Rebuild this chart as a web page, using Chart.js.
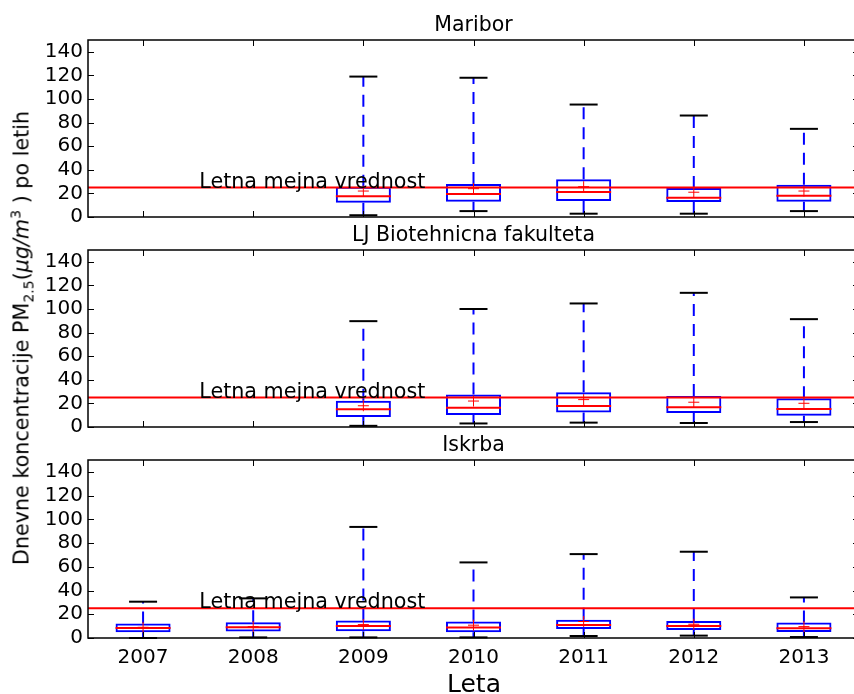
<!DOCTYPE html>
<html>
<head>
<meta charset="utf-8">
<script src="https://cdn.jsdelivr.net/npm/chart.js@4.4.0/dist/chart.umd.min.js"></script>
<style>
  html, body {
    margin: 0;
    padding: 0;
    width: 854px;
    height: 694px;
    overflow: hidden;
    background: #fff;
    font-family: "DejaVu Sans", sans-serif;
  }
  .panel {
    position: absolute;
    left: 0;
    width: 870px;
  }
  #ylabel {
    position: absolute;
    left: 22px;
    top: 338px;
    transform: translate(-50%, -50%) rotate(-90deg);
    white-space: nowrap;
    font-size: 20.7px;
    color: #000;
  }
  #ylabel sub, #ylabel sup { font-size: 14px; }
  #xlabel {
    position: absolute;
    left: 474px;
    top: 683px;
    transform: translate(-50%, -50%);
    font-size: 25px;
    color: #000;
  }
</style>
</head>
<body>
<div class="panel" style="top:0px"><canvas id="chart1" width="870" height="234"></canvas></div>
<div class="panel" style="top:210px"><canvas id="chart2" width="870" height="234"></canvas></div>
<div class="panel" style="top:420px"><canvas id="chart3" width="870" height="272"></canvas></div>
<div id="ylabel">Dnevne koncentracije PM<sub>2.5</sub>(<i>μg/m</i><sup>3</sup> ) po letih</div>
<div id="xlabel">Leta</div>
<script>
// Categories and tick labels
const years = ["2007", "2008", "2009", "2010", "2011", "2012", "2013"];
const yTicks = [0, 20, 40, 60, 80, 100, 120, 140];
const limitValue = 25;
const limitText = "Letna mejna vrednost";
const limitTextPos = 0.51;

// Maribor
const mbMin = [null, null, 1.5, 5, 2.8, 2.8, 5];
const mbQ1 = [null, null, 12.1, 13, 13.6, 12.7, 13];
const mbMed = [null, null, 17.5, 19.5, 21.2, 16.4, 18];
const mbMean = [null, null, 22, 24, 25.7, 21, 22];
const mbQ3 = [null, null, 25.7, 28, 32, 24.6, 27.4];
const mbMax = [null, null, 119, 118, 95.3, 86, 74.7];

// LJ Biotehnicna fakulteta
const ljMin = [null, null, 1, 3, 3.7, 3.4, 4.2];
const ljQ1 = [null, null, 8.5, 10.2, 12.2, 11.9, 9.6];
const ljMed = [null, null, 15, 16.4, 17.8, 16.7, 15.3];
const ljMean = [null, null, 18, 22, 23.2, 21, 20.1];
const ljQ3 = [null, null, 22.3, 27.5, 29.4, 26.3, 24.3];
const ljMax = [null, null, 89.7, 100, 104.7, 113.7, 91.4];

// Iskrba
const isMin = [0, 0.5, 0.5, 0.5, 1.7, 2, 0.8];
const isQ1 = [4.8, 5.4, 5.7, 4.8, 7.6, 6.8, 5.1];
const isMed = [8.5, 9.1, 10.2, 8.8, 11, 10.2, 8.2];
const isMean = [9, 9.6, 11.3, 10.8, 13.9, 11.6, 9.6];
const isQ3 = [12.2, 13.3, 14.7, 13.8, 15.3, 14.4, 13];
const isMax = [30.6, 33.4, 93.6, 63.7, 70.7, 72.7, 34.2];

const FONT = '"DejaVu Sans", sans-serif';
const BLUE = "#0000ff";
const RED = "#ff0000";

// Whisker segments: box edge -> extreme, broken by nulls
function whiskerPoints(q1, q3, lo, hi) {
  const pts = [];
  years.forEach((yr, i) => {
    if (q3[i] == null) return;
    pts.push({ x: yr, y: q3[i] }, { x: yr, y: hi[i] }, { x: yr, y: null });
    pts.push({ x: yr, y: q1[i] }, { x: yr, y: lo[i] }, { x: yr, y: null });
  });
  return pts;
}

// Frame, inward ticks, limit line and title
const framePlugin = {
  id: "frame",
  afterDatasetsDraw(chart) {
    const { ctx, chartArea: a, scales } = chart;
    const yl = scales.y.getPixelForValue(limitValue);
    ctx.save();
    ctx.strokeStyle = RED;
    ctx.lineWidth = 2;
    ctx.beginPath();
    ctx.moveTo(a.left, yl);
    ctx.lineTo(a.right, yl);
    ctx.stroke();
    ctx.fillStyle = "#000";
    ctx.font = "20.7px " + FONT;
    ctx.textAlign = "left";
    ctx.textBaseline = "alphabetic";
    ctx.fillText(limitText, scales.x.getPixelForValue(limitTextPos), yl);
    ctx.restore();
  },
  afterDraw(chart, args, opts) {
    const { ctx, chartArea: a, scales } = chart;
    ctx.save();
    ctx.strokeStyle = "#000";
    ctx.lineWidth = 1;
    ctx.beginPath();
    scales.y.ticks.forEach((t) => {
      const py = Math.round(scales.y.getPixelForValue(t.value)) + 0.5;
      ctx.moveTo(a.left, py);
      ctx.lineTo(a.left + 6, py);
      ctx.moveTo(a.right, py);
      ctx.lineTo(a.right - 6, py);
    });
    years.forEach((yr, i) => {
      const px = Math.round(scales.x.getPixelForValue(i)) + 0.5;
      ctx.moveTo(px, a.top);
      ctx.lineTo(px, a.top + 6);
      ctx.moveTo(px, a.bottom);
      ctx.lineTo(px, a.bottom - 6);
    });
    ctx.stroke();
    ctx.lineWidth = 1.5;
    ctx.strokeRect(a.left, a.top, a.right - a.left, a.bottom - a.top);
    ctx.fillStyle = "#000";
    ctx.font = "20.5px " + FONT;
    ctx.textAlign = "center";
    ctx.textBaseline = "alphabetic";
    ctx.fillText(opts.title, (a.left + a.right) / 2, a.top - 9);
    ctx.restore();
  },
};

function makeChart(id, title, mn, q1, med, mean, q3, mx, showX) {
  return new Chart(document.getElementById(id), {
    type: "bar",
    data: {
      labels: years,
      datasets: [
        {
          type: "line",
          data: mean,
          showLine: false,
          pointStyle: "cross",
          pointRadius: 5.5,
          pointBorderColor: RED,
          pointBorderWidth: 1,
          clip: false,
          order: 0,
        },
        {
          type: "line",
          data: med,
          showLine: false,
          pointStyle: "line",
          pointRadius: 27.5,
          pointBorderColor: RED,
          pointBorderWidth: 2,
          order: 1,
        },
        {
          data: q1.map((v, i) => (v == null ? null : [v, q3[i]])),
          backgroundColor: "rgba(0,0,0,0)",
          borderColor: BLUE,
          borderWidth: 2,
          borderSkipped: false,
          barPercentage: 0.5,
          categoryPercentage: 1.0,
          order: 2,
        },
        {
          type: "line",
          data: mx,
          showLine: false,
          pointStyle: "line",
          pointRadius: 14,
          pointBorderColor: "#000",
          pointBorderWidth: 2,
          clip: false,
          order: 3,
        },
        {
          type: "line",
          data: mn,
          showLine: false,
          pointStyle: "line",
          pointRadius: 14,
          pointBorderColor: "#000",
          pointBorderWidth: 2,
          clip: false,
          order: 3,
        },
        {
          type: "line",
          data: whiskerPoints(q1, q3, mn, mx),
          borderColor: BLUE,
          borderWidth: 2,
          borderDash: [12, 8],
          pointRadius: 0,
          spanGaps: false,
          order: 4,
        },
      ],
    },
    options: {
      responsive: false,
      animation: false,
      events: [],
      layout: {
        autoPadding: false,
        padding: { left: 0, right: 11, top: 40, bottom: 14 },
      },
      plugins: {
        legend: { display: false },
        tooltip: { enabled: false },
        frame: { title: title },
      },
      scales: {
        x: {
          type: "category",
          offset: true,
          grid: { display: false, drawTicks: false },
          border: { display: false },
          ticks: {
            display: showX,
            color: "#000",
            font: { size: 20, family: FONT },
            padding: 8,
            maxRotation: 0,
            autoSkip: false,
          },
          afterFit: (s) => {
            s.height = showX ? 40 : 0;
          },
        },
        y: {
          min: 0,
          max: 150,
          grid: { display: false, drawTicks: false },
          border: { display: false },
          ticks: {
            stepSize: 20,
            color: "#000",
            font: { size: 20, family: FONT },
            padding: 5,
            autoSkip: false,
          },
          afterBuildTicks: (s) => {
            s.ticks = yTicks.map((v) => ({ value: v }));
          },
          afterFit: (s) => {
            s.width = 88;
          },
        },
      },
    },
    plugins: [framePlugin],
  });
}

makeChart("chart1", "Maribor", mbMin, mbQ1, mbMed, mbMean, mbQ3, mbMax, false);
makeChart("chart2", "LJ Biotehnicna fakulteta", ljMin, ljQ1, ljMed, ljMean, ljQ3, ljMax, false);
makeChart("chart3", "Iskrba", isMin, isQ1, isMed, isMean, isQ3, isMax, true);
</script>
</body>
</html>
